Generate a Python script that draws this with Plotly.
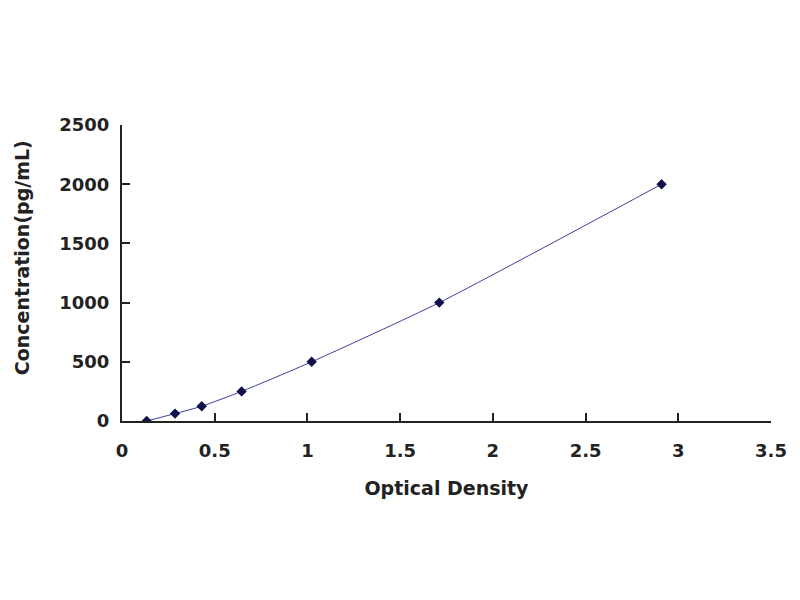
import plotly.graph_objects as go

# standard curve
optical_density = [0.133, 0.286, 0.43, 0.645, 1.023, 1.711, 2.91]
concentration = [0, 62.5, 125, 250, 500, 1000, 2000]

x_ticks = [0, 0.5, 1, 1.5, 2, 2.5, 3, 3.5]
x_tick_text = ["0", "0.5", "1", "1.5", "2", "2.5", "3", "3.5"]
y_ticks = [0, 500, 1000, 1500, 2000, 2500]

font_family = "DejaVu Sans, Arial, sans-serif"

fig = go.Figure()
fig.add_trace(go.Scatter(
    x=optical_density,
    y=concentration,
    mode="lines+markers",
    line=dict(color="#40409a", width=1, shape="spline", smoothing=0.6),
    marker=dict(symbol="diamond", size=8, color="#10104a"),
    showlegend=False,
))

axis_common = dict(
    showline=True,
    linecolor="#222222",
    linewidth=2,
    ticks="inside",
    ticklen=8,
    tickwidth=2,
    tickcolor="#222222",
    showgrid=False,
    zeroline=False,
    automargin=False,
    tickfont=dict(family=font_family, size=18, color="#222222",
                  weight="bold"),
)

fig.update_xaxes(
    range=[0, 3.5],
    tickvals=x_ticks,
    ticktext=x_tick_text,
    ticklabelstandoff=12,
    title=dict(text="Optical Density", standoff=22,
               font=dict(family=font_family, size=19, color="#222222",
                         weight="bold")),
    **axis_common,
)
fig.update_yaxes(
    range=[0, 2500],
    tickvals=y_ticks,
    ticklabelstandoff=7,
    **axis_common,
)

# y title sits a bit above the middle of the axis in the original
fig.add_annotation(
    text="Concentration(pg/mL)",
    xref="paper", yref="paper",
    x=-0.154, y=0.55,
    xanchor="center", yanchor="middle",
    textangle=-90,
    showarrow=False,
    font=dict(family=font_family, size=19, color="#222222", weight="bold"),
)

# page body adds 8px, so margins are shifted by that much
fig.update_layout(
    width=800,
    height=600,
    margin=dict(l=114, r=37, t=117, b=187),
    plot_bgcolor="white",
    paper_bgcolor="white",
)

fig.write_html("out.html")
